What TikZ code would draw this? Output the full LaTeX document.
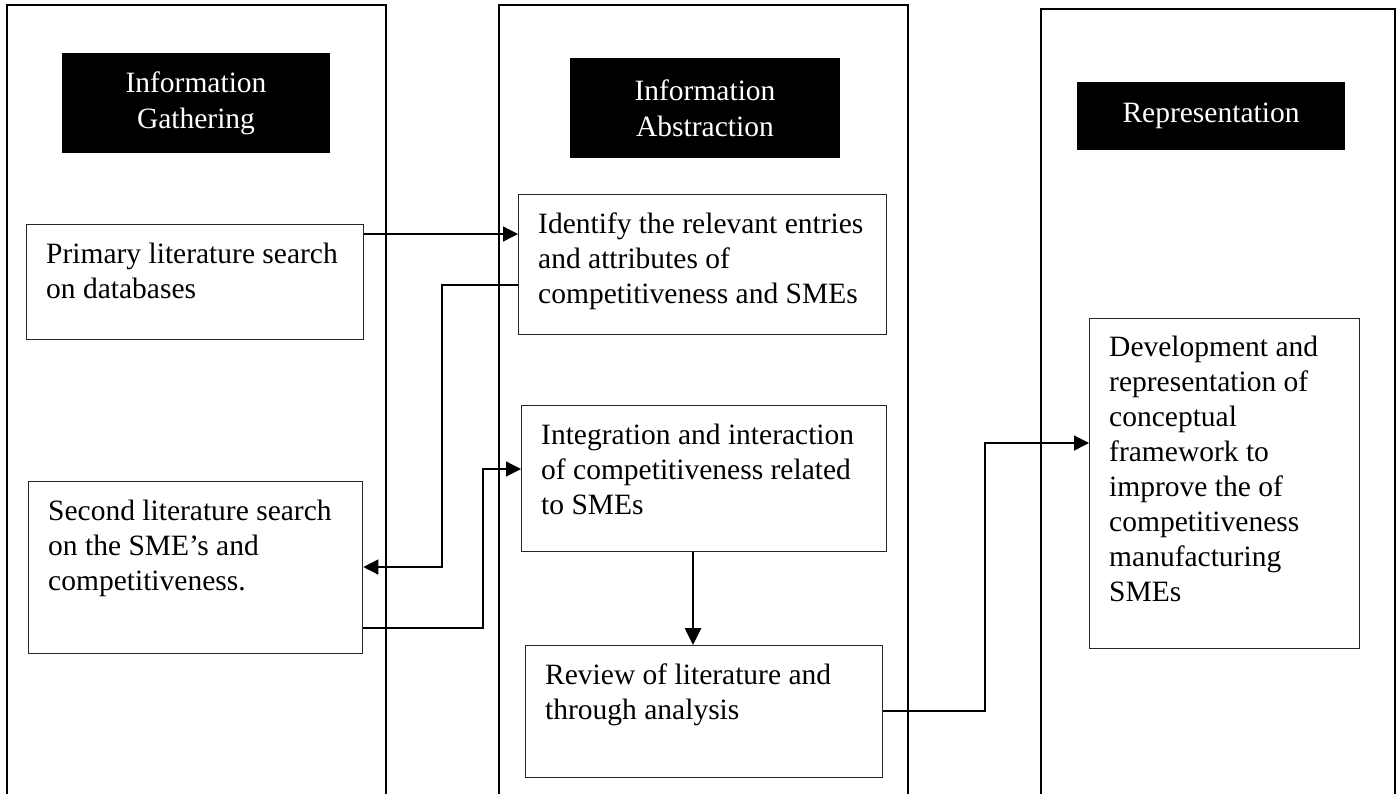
\documentclass[tikz,border=0pt]{standalone}
\usepackage{fontspec}
\setmainfont{Liberation Serif}
\usetikzlibrary{arrows.meta,calc}
\begin{document}
\begin{tikzpicture}[x=1pt,y=-1pt,
  col/.style={draw=black,line width=2.6pt},
  box/.style={draw=black!85,line width=1.3pt,rectangle,inner sep=0pt,anchor=north west},
  head/.style={fill=black,text=white,inner sep=0pt,align=center,font=\fontsize{29.5}{36}\selectfont},
  txt/.style={inner sep=0pt,anchor=north west,align=left,font=\fontsize{29.5}{35}\selectfont},
  arr/.style={line width=1.3pt,-{Triangle[length=15pt,width=15pt]}},
  thickarr/.style={line width=2.6pt,-{Triangle[length=17pt,width=16pt]}}
]
\useasboundingbox (0,0) rectangle (1400,793);
\clip (0,0) rectangle (1400,793);

% columns
\draw[col] (7,5) rectangle (386,830);
\draw[col] (499,5) rectangle (908,830);
\draw[col] (1041,9) rectangle (1395,830);

% headers
\node[head,minimum width=268pt,minimum height=100pt] (h1) at (196,103) {Information\\Gathering};
\node[head,minimum width=270pt,minimum height=100pt] (h2) at (705,108) {Information\\Abstraction};
\node[head,minimum width=268pt,minimum height=68pt] (h3) at (1211,116) {Representation};

% boxes
\node[box,minimum width=337pt,minimum height=115pt] (prim) at (26,224) {};
\node[box,minimum width=334pt,minimum height=172pt] (second) at (28,481) {};
\node[box,minimum width=368pt,minimum height=140pt] (ident) at (518,194) {};
\node[box,minimum width=365pt,minimum height=146pt] (integ) at (521,405) {};
\node[box,minimum width=357pt,minimum height=132pt] (review) at (525,645) {};
\node[box,minimum width=270pt,minimum height=330pt] (dev) at (1089,318) {};

% texts
\node[txt] (primT) at ($(prim.north west)+(20,19)$) {Primary literature search\\on databases};
\node[txt] (secondT) at ($(second.north west)+(20,19)$) {Second literature search\\on the SME’s and\\competitiveness.};
\node[txt] (identT) at ($(ident.north west)+(20,19)$) {Identify the relevant entries\\and attributes of\\competitiveness and SMEs};
\node[txt] (integT) at ($(integ.north west)+(20,19)$) {Integration and interaction\\of competitiveness related\\to SMEs};
\node[txt] (reviewT) at ($(review.north west)+(20,19)$) {Review of literature and\\through analysis};
\node[txt] (devT) at ($(dev.north west)+(20,18)$) {Development and\\representation of\\conceptual\\framework to\\improve the of\\competitiveness\\manufacturing\\SMEs};

% connectors
\coordinate (r1) at (442,567);
\coordinate (r2) at (483,469);
\coordinate (r3) at (985,443);

\draw[arr] (prim.east |- 0,234) -- (ident.west |- 0,234);
\draw[arr] (ident.west |- 0,285) -| (r1) -- (second.east |- r1);
\draw[arr] (second.east |- 0,628) -| (r2) -- (integ.west |- r2);
\draw[thickarr] (integ.south -| 693,0) -- (review.north -| 693,0);
\draw[arr] (review.east |- 0,711) -| (r3) -- (dev.west |- r3);
\end{tikzpicture}
\end{document}
